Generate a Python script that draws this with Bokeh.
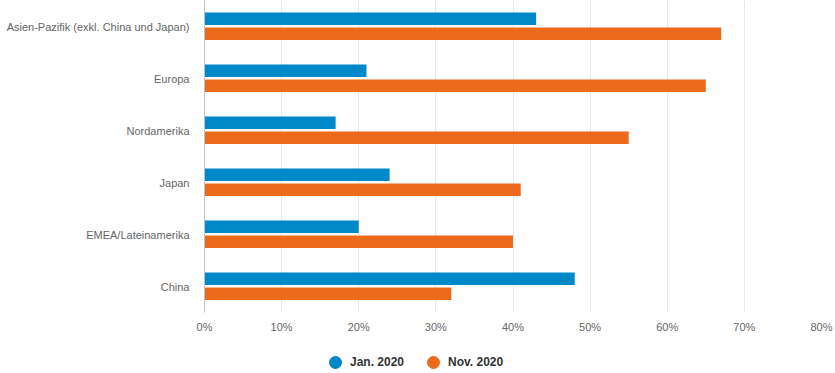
from bokeh.plotting import figure
from bokeh.models import (ColumnDataSource, FactorRange, Range1d, FixedTicker,
                          PrintfTickFormatter, Legend, LegendItem)
from bokeh.layouts import column
from bokeh.transform import dodge
from bokeh.embed import file_html
from bokeh.resources import INLINE

categories = ["Asien-Pazifik (exkl. China und Japan)", "Europa", "Nordamerika",
              "Japan", "EMEA/Lateinamerika", "China"]
jan_2020 = [43, 21, 17, 24, 20, 48]
nov_2020 = [67, 65, 55, 41, 40, 32]
series_names = ["Jan. 2020", "Nov. 2020"]
x_ticks = [0, 10, 20, 30, 40, 50, 60, 70, 80]

BLUE = "#0088c9"
ORANGE = "#eb6a1c"
FONT = "Liberation Sans"

src = ColumnDataSource(dict(cat=categories, jan=jan_2020, nov=nov_2020))

p = figure(width=835, height=340, output_backend="svg", toolbar_location=None,
           y_range=FactorRange(factors=list(reversed(categories))),
           x_range=Range1d(0, 80),
           min_border_left=204, min_border_right=14, min_border_top=0,
           min_border_bottom=28)
p.frame_width = 617
p.frame_height = 312
p.outline_line_color = None
p.background_fill_color = None
p.border_fill_color = None

p.hbar(y=dodge("cat", 0.15, range=p.y_range), left=0, right="jan", height=0.24,
       source=src, color=BLUE, line_color=None)
p.hbar(y=dodge("cat", -0.14, range=p.y_range), left=0, right="nov", height=0.24,
       source=src, color=ORANGE, line_color=None)

# axes
p.ygrid.grid_line_color = None
p.xgrid.grid_line_color = "#e6e6e6"
p.xaxis.ticker = FixedTicker(ticks=x_ticks)
p.xaxis.formatter = PrintfTickFormatter(format="%d%%")
p.xaxis.axis_line_color = None
p.xaxis.major_tick_line_color = None
p.xaxis.minor_tick_line_color = None
p.xaxis.major_label_text_font = FONT
p.xaxis.major_label_text_font_size = "11px"
p.xaxis.major_label_text_color = "#666666"
p.xaxis.major_label_standoff = 2

p.yaxis.axis_line_color = "#c0c6d0"
p.yaxis.major_tick_line_color = None
p.yaxis.minor_tick_line_color = None
p.yaxis.major_label_text_font = FONT
p.yaxis.major_label_text_font_size = "11px"
p.yaxis.major_label_text_color = "#666666"
p.yaxis.major_label_standoff = 9

# legend strip below the chart
lg = figure(width=835, height=33, output_backend="svg", toolbar_location=None,
            x_range=Range1d(0, 1), y_range=Range1d(0, 1),
            min_border=0, min_border_left=0, min_border_right=0,
            min_border_top=0, min_border_bottom=0)
lg.outline_line_color = None
lg.background_fill_color = None
lg.border_fill_color = None
lg.axis.visible = False
lg.grid.visible = False
nan = float("nan")
r1 = lg.scatter(x=[nan], y=[nan], marker="circle", color=BLUE, size=12)
r2 = lg.scatter(x=[nan], y=[nan], marker="circle", color=ORANGE, size=12)

legend = Legend(items=[LegendItem(label=series_names[0], renderers=[r1]),
                       LegendItem(label=series_names[1], renderers=[r2])],
                orientation="horizontal", location=(116, -4),
                glyph_width=30, glyph_height=30, label_standoff=-4, spacing=14,
                padding=0, margin=0, border_line_color=None,
                background_fill_alpha=0,
                label_text_font=FONT, label_text_font_size="12px",
                label_text_font_style="bold", label_text_color="#333333")
lg.add_layout(legend, "center")

layout = column(p, lg, spacing=0)
open("out.html", "w").write(file_html(layout, INLINE))
